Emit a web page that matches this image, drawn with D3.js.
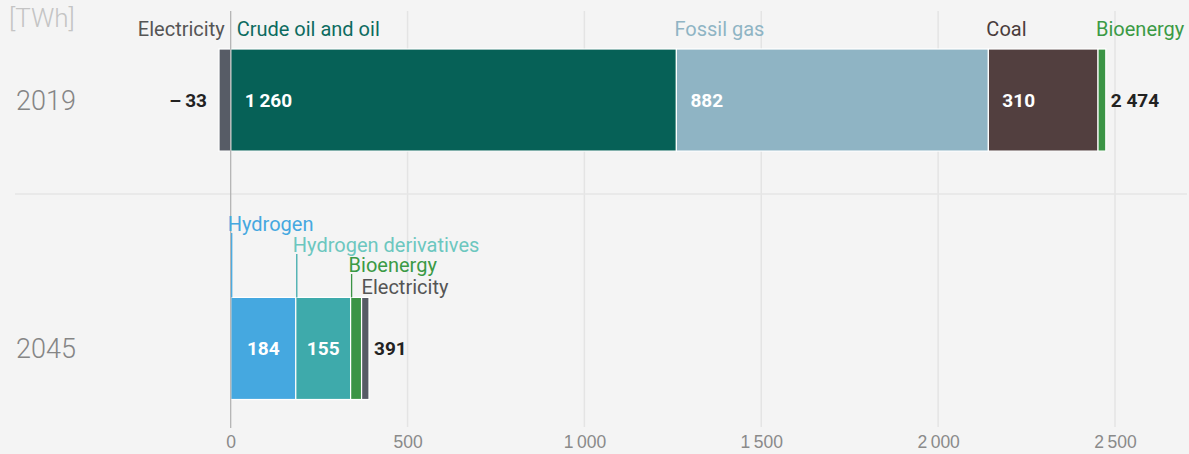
<!DOCTYPE html>
<html><head><meta charset="utf-8">
<script src="https://cdn.jsdelivr.net/npm/d3@7"></script>
<style>
html,body{margin:0;padding:0;background:#f4f4f4;}
svg{display:block;font-family:Roboto,"Noto Sans",sans-serif;}
</style></head>
<body><svg id="chart" width="1189" height="454"></svg>
<script>
const years = ["2019", "2045"];
const categories2019 = ["Electricity", "Crude oil and oil", "Fossil gas", "Coal", "Bioenergy"];
const values2019 = [-33, 1260, 882, 310, 22];
const colors2019 = ["#575c66", "#066157", "#8fb4c4", "#523f3f", "#3b9445"];
const labelColors2019 = ["#555555", "#0d6b60", "#8fb4c4", "#4a3c3c", "#3b9a45"];
const total2019 = "2 474";
const categories2045 = ["Hydrogen", "Hydrogen derivatives", "Bioenergy", "Electricity"];
const values2045 = [184, 155, 31, 21];
const colors2045 = ["#45a8e0", "#3eaaab", "#3b9445", "#575c66"];
const labelColors2045 = ["#45a8e0", "#6cc7bf", "#3b9a45", "#555555"];
const total2045 = "391";
const tickValues = [0, 500, 1000, 1500, 2000, 2500];
const unitLabel = "[TWh]";

const svg = d3.select("#chart");
const x = d3.scaleLinear().domain([0, 2500]).range([230.7, 1115]);
const y = d3.scaleBand().domain(years).range([49, 399.5]).paddingInner(0.589).paddingOuter(0);
const fmt = v => {
  const s = d3.format(",")(Math.abs(v)).replace(/,/g, "\u2009");
  return (v < 0 ? "\u2013\u2009" : "") + s;
};

// gridlines
svg.append("g").selectAll("line").data(tickValues.filter(d => d !== 0)).join("line")
  .attr("x1", d => x(d)).attr("x2", d => x(d))
  .attr("y1", 11).attr("y2", 427)
  .attr("stroke", "#e4e4e4").attr("stroke-width", 1.5);

// separator
svg.append("line").attr("x1", 15).attr("x2", 1187).attr("y1", 194).attr("y2", 194)
  .attr("stroke", "#e6e6e6").attr("stroke-width", 1.5);

// axis labels
const axis = d3.axisBottom(x).tickValues(tickValues).tickSize(0).tickFormat(d => fmt(d));
const ag = svg.append("g").attr("transform", "translate(0,433)").call(axis);
ag.select(".domain").remove();
ag.selectAll("text").attr("fill", "#8a8a8a").attr("font-size", 17.5).attr("dy", "0.71em").attr("font-weight", 300);

// unit and year labels
svg.append("text").attr("x", 9).attr("y", 27).text(unitLabel)
  .attr("fill", "#c4c4c4").attr("font-size", 26).attr("font-weight", 300);
svg.selectAll(".year").data(years).join("text").attr("class", "year")
  .attr("x", 16).attr("y", d => y(d) + y.bandwidth() / 2 + 10)
  .text(d => d).attr("fill", "#858585").attr("font-size", 27).attr("font-weight", 300);

// stacks
function stack(vals) {
  let pos = 0, neg = 0;
  return vals.map(v => {
    if (v < 0) { const s = { x0: neg + v, x1: neg, v }; neg += v; return s; }
    const s = { x0: pos, x1: pos + v, v }; pos += v; return s;
  });
}
const s19 = stack(values2019);
const s45 = stack(values2045);
const y19 = y("2019"), y45 = y("2045"), bh = y.bandwidth();

function drawBars(st, colors, yy) {
  svg.append("g").selectAll("rect").data(st).join("rect")
    .attr("x", d => x(d.x0)).attr("width", d => x(d.x1) - x(d.x0))
    .attr("y", yy).attr("height", bh)
    .attr("fill", (d, i) => colors[i])
    .attr("stroke", "#ffffff").attr("stroke-width", 1.2);
}
drawBars(s19, colors2019, y19);
drawBars(s45, colors2045, y45);

// zero line
svg.append("line").attr("x1", x(0)).attr("x2", x(0)).attr("y1", 11).attr("y2", 428)
  .attr("stroke", "#b0b0b0").attr("stroke-width", 1.2);

// 2019 category labels
const g19 = svg.append("g").attr("font-size", 20);
s19.forEach((d, i) => {
  const neg = d.v < 0;
  g19.append("text")
    .attr("x", neg ? x(d.x1) - 6 : x(d.x0) + (i === 1 ? 6 : -2))
    .attr("y", 36).attr("text-anchor", neg ? "end" : "start")
    .attr("fill", labelColors2019[i]).text(categories2019[i]);
});
// 2019 value labels
const vy19 = y19 + bh / 2 + 6.5;
s19.forEach((d, i) => {
  if (d.v < 0) {
    svg.append("text").attr("x", x(d.x0) - 12).attr("y", vy19).attr("text-anchor", "end")
      .attr("font-size", 19).attr("font-weight", 700).attr("fill", "#222").text(fmt(d.v));
  } else if (d.v > 100) {
    svg.append("text").attr("x", x(d.x0) + 14).attr("y", vy19)
      .attr("font-size", 19).attr("font-weight", 700).attr("fill", "#fff").text(fmt(d.v));
  }
});
svg.append("text").attr("x", x(s19[s19.length - 1].x1) + 5).attr("y", vy19)
  .attr("font-size", 19).attr("font-weight", 700).attr("fill", "#222").text(total2019);

// 2045 labels with leaders
const baseY = [231, 252, 272, 294];
const labelShift = [-3, -3, -2, 0];
s45.forEach((d, i) => {
  svg.append("text").attr("x", x(d.x0) + labelShift[i]).attr("y", baseY[i])
    .attr("font-size", 20).attr("fill", labelColors2045[i]).text(categories2045[i]);
  if (i < 3) {
    svg.append("line").attr("x1", x(d.x0) + 1).attr("x2", x(d.x0) + 1)
      .attr("y1", baseY[i] + 2).attr("y2", y45)
      .attr("stroke", colors2045[i]).attr("stroke-width", 1.3);
  }
});
const vy45 = y45 + bh / 2 + 6.5;
s45.forEach((d, i) => {
  if (d.v > 100) {
    svg.append("text").attr("x", (x(d.x0) + x(d.x1)) / 2).attr("y", vy45).attr("text-anchor", "middle")
      .attr("font-size", 19).attr("font-weight", 700).attr("fill", "#fff").text(fmt(d.v));
  }
});
svg.append("text").attr("x", x(s45[s45.length - 1].x1) + 5).attr("y", vy45)
  .attr("font-size", 19).attr("font-weight", 700).attr("fill", "#222").text(total2045);
</script></body></html>
